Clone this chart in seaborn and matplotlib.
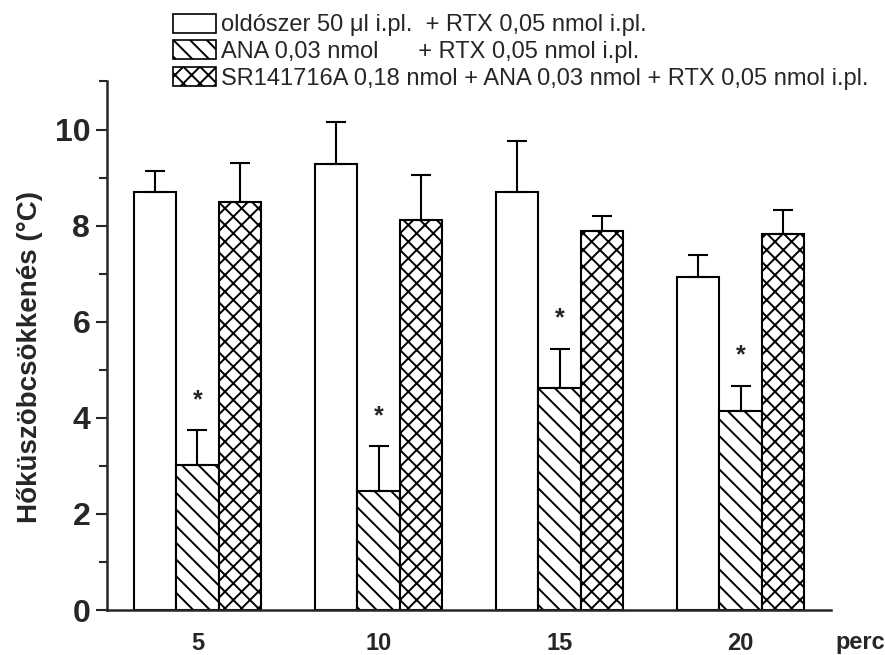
import matplotlib
matplotlib.use("Agg")
import matplotlib.pyplot as plt
import seaborn as sns
import pandas as pd
import numpy as np
from matplotlib.patches import Patch
from matplotlib.ticker import MultipleLocator

# ---- data ----
categories = ["5", "10", "15", "20"]
series_labels = [
    "oldószer 50 μl i.pl.  + RTX 0,05 nmol i.pl.",
    "ANA 0,03 nmol      + RTX 0,05 nmol i.pl.",
    "SR141716A 0,18 nmol + ANA 0,03 nmol + RTX 0,05 nmol i.pl.",
]
vehicle = [8.70, 9.29, 8.69, 6.94]
vehicle_err = [0.43, 0.87, 1.07, 0.44]
ana = [3.01, 2.47, 4.62, 4.15]
ana_err = [0.73, 0.94, 0.82, 0.52]
sr = [8.49, 8.12, 7.88, 7.83]
sr_err = [0.82, 0.93, 0.33, 0.50]
significant = [False, True, False]  # asterisk over ANA series
y_ticks = [0, 2, 4, 6, 8, 10]

values = [vehicle, ana, sr]
errors = [vehicle_err, ana_err, sr_err]
hatches = ["", "\\\\", "xx"]

rows = []
for lab, vals in zip(series_labels, values):
    for c, v in zip(categories, vals):
        rows.append({"time": c, "group": lab, "value": v})
df = pd.DataFrame(rows)

sns.set_style("ticks")
plt.rcParams["font.family"] = ["Liberation Sans", "DejaVu Sans"]
plt.rcParams["hatch.linewidth"] = 1.4

fig = plt.figure(figsize=(8.85, 6.55), dpi=100)
ax = fig.add_axes([0.1209, 0.0687, 0.8181, 0.8069])

sns.barplot(data=df, x="time", y="value", hue="group", order=categories,
            hue_order=series_labels, palette=["white"] * 3, width=0.7,
            edgecolor="black", linewidth=1.5, errorbar=None, legend=False,
            saturation=1, ax=ax)

bar_containers = list(ax.containers)
for i, cont in enumerate(bar_containers):
    xs = []
    tops = []
    for bar in cont:
        bar.set_hatch(hatches[i])
        bar.set_facecolor("white")
        bar.set_edgecolor("black")
        xs.append(bar.get_x() + bar.get_width() / 2)
        tops.append(bar.get_height())
    err = errors[i]
    ax.errorbar(xs, tops, yerr=[np.zeros(len(err)), err], fmt="none",
                ecolor="black", elinewidth=1.5, capsize=7.5, capthick=1.5,
                zorder=5)
    if significant[i]:
        for x, t, e in zip(xs, tops, err):
            ax.text(x, t + e + 0.48, "*", ha="center", va="baseline",
                    fontsize=18, fontweight="bold")

ax.set_xlim(-0.5, 3.5)
ax.set_ylim(0, 11)
ax.set_yticks(y_ticks)
ax.yaxis.set_minor_locator(MultipleLocator(1))
ax.set_yticklabels([str(t) for t in y_ticks], fontsize=23, fontweight="bold")
ax.set_xticks(range(len(categories)))
ax.set_xticklabels(categories, fontsize=17, fontweight="bold")
ax.tick_params(axis="x", length=0, pad=16)
ax.tick_params(axis="y", which="major", length=8, width=1.5, pad=4)
ax.tick_params(axis="y", which="minor", length=5.5, width=1.5)
for s in ["top", "right"]:
    ax.spines[s].set_visible(False)
for s in ["left", "bottom"]:
    ax.spines[s].set_linewidth(1.8)

ax.set_xlabel("")
ax.set_ylabel("Hőküszöbcsökkenés (°C)", fontsize=20, fontweight="bold")
ax.yaxis.set_label_coords(-0.088, 0.478)
fig.text(0.944, 0.009, "perc", fontsize=17, fontweight="bold", ha="left", va="baseline")

handles = [Patch(facecolor="white", edgecolor="black", hatch=h, linewidth=1.2)
           for h in hatches]
fig.legend(handles, series_labels, loc="upper left", bbox_to_anchor=(0.1955, 0.979),
           frameon=False, fontsize=17, handlelength=1.8, handleheight=0.85,
           handletextpad=0.25, labelspacing=0.17, borderpad=0.0, borderaxespad=0.0)

fig.savefig("out.png", dpi=100)
